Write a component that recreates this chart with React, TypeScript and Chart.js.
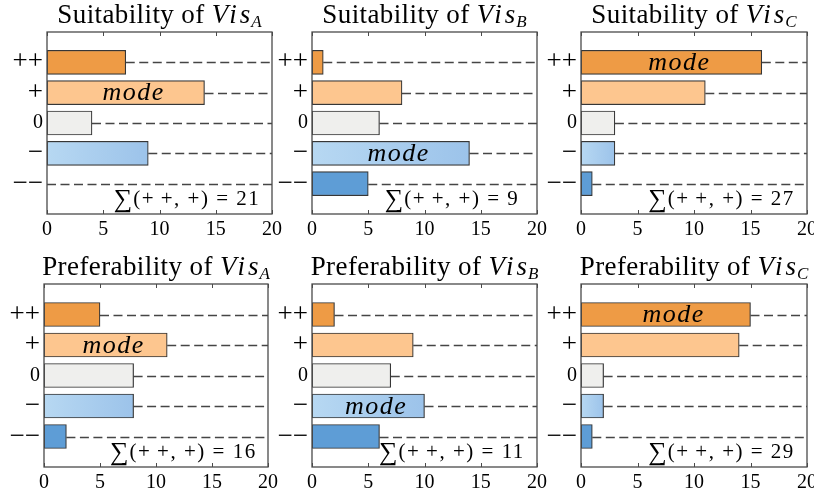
import React, { useEffect, useRef } from 'react';
import { Chart, registerables } from 'chart.js';

Chart.register(...registerables);

// ---------- data ----------
const CATEGORIES = ['++', '+', '0', '−', '−−'];
const SUIT_A = [7, 14, 4, 9, 0];
const SUIT_B = [1, 8, 6, 14, 5];
const SUIT_C = [16, 11, 3, 3, 1];
const PREF_A = [5, 11, 8, 8, 2];
const PREF_B = [2, 9, 7, 10, 6];
const PREF_C = [15, 14, 2, 2, 1];
const X_TICKS = [0, 5, 10, 15, 20];
const ROW_TITLES = ['Suitability', 'Preferability'];
const VIS_NAMES = ['A', 'B', 'C'];
const SUM_SYMBOL = '∑';
const SUM_PREFIX = '(+\u2009+, +) = ';
const MODE_LABEL = 'mode';

// ---------- style ----------
const FONT = "'Liberation Serif', 'Times New Roman', serif";
const BAR_COLORS = ['#EE9B45', '#FDC68F', '#EFEFED', '#A8CDEF', '#5E9DD6'];
const GRAD_LIGHT = '#B7D8F2';
const GRAD_DARK = '#9CC3EA';
const BAR_BORDER = '#363636';
const FRAME = '#4a4a4a';
const DASH = '#454545';

const PAD_L = 44;
const PAD_R = 14;
const PAD_T = 34;
const PAD_B = 30;

type Panel = { values: number[]; title: string; sub: string; box: [number, number, number, number] };

const PANELS: Panel[] = [
  { values: SUIT_A, title: ROW_TITLES[0], sub: VIS_NAMES[0], box: [47, 32, 272, 214] },
  { values: SUIT_B, title: ROW_TITLES[0], sub: VIS_NAMES[1], box: [312, 32, 537, 214] },
  { values: SUIT_C, title: ROW_TITLES[0], sub: VIS_NAMES[2], box: [581, 32, 807, 214] },
  { values: PREF_A, title: ROW_TITLES[1], sub: VIS_NAMES[0], box: [44, 284, 268, 467] },
  { values: PREF_B, title: ROW_TITLES[1], sub: VIS_NAMES[1], box: [312, 284, 537, 467] },
  { values: PREF_C, title: ROW_TITLES[1], sub: VIS_NAMES[2], box: [581, 284, 807, 467] },
];

function setSpacing(ctx: any, v: string) {
  if ('letterSpacing' in ctx) ctx.letterSpacing = v;
}

function makeDeco(panel: Panel) {
  const values = panel.values;
  return {
    id: 'panelDeco',
    beforeDatasetsDraw(chart: any) {
      const { ctx, chartArea } = chart;
      const xs = chart.scales.x;
      const ys = chart.scales.y;
      ctx.save();
      ctx.strokeStyle = DASH;
      ctx.lineWidth = 1.4;
      ctx.setLineDash([9, 4.5]);
      values.forEach((v, i) => {
        const y = Math.round(ys.getPixelForValue(i + 1)) + 0.5;
        const x0 = xs.getPixelForValue(v);
        ctx.beginPath();
        ctx.moveTo(x0, y);
        ctx.lineTo(chartArea.right, y);
        ctx.stroke();
      });
      ctx.restore();
    },
    afterDatasetsDraw(chart: any) {
      const { ctx, chartArea } = chart;
      const xs = chart.scales.x;
      const ys = chart.scales.y;
      ctx.save();
      // frame
      ctx.strokeStyle = FRAME;
      ctx.lineWidth = 1.3;
      ctx.strokeRect(chartArea.left, chartArea.top, chartArea.right - chartArea.left, chartArea.bottom - chartArea.top);
      // inward ticks
      ctx.lineWidth = 1;
      X_TICKS.forEach((v) => {
        const x = Math.round(xs.getPixelForValue(v)) + 0.5;
        ctx.beginPath();
        ctx.moveTo(x, chartArea.top);
        ctx.lineTo(x, chartArea.top + 4);
        ctx.moveTo(x, chartArea.bottom);
        ctx.lineTo(x, chartArea.bottom - 4);
        ctx.stroke();
      });
      // mode label
      let mi = 0;
      values.forEach((v, i) => { if (v > values[mi]) mi = i; });
      const mx = (xs.getPixelForValue(0) + xs.getPixelForValue(values[mi])) / 2 + 8;
      const my = ys.getPixelForValue(mi + 1);
      ctx.fillStyle = '#000';
      ctx.font = `italic 26px ${FONT}`;
      setSpacing(ctx, '1.5px');
      ctx.textAlign = 'center';
      ctx.textBaseline = 'middle';
      ctx.fillText(MODE_LABEL, mx, my + 1);
      // sum label
      const sum = values[0] + values[1];
      const rest = SUM_PREFIX + sum;
      ctx.textAlign = 'left';
      ctx.textBaseline = 'alphabetic';
      ctx.font = `26px ${FONT}`;
      setSpacing(ctx, '0px');
      const wSig = ctx.measureText(SUM_SYMBOL).width;
      ctx.font = `21px ${FONT}`;
      setSpacing(ctx, '1.5px');
      const wRest = ctx.measureText(rest).width;
      const cx = chartArea.left + (chartArea.right - chartArea.left) * 0.622;
      const base = chartArea.bottom - 9;
      let x = cx - (wSig + 1 + wRest) / 2;
      ctx.font = `26px ${FONT}`;
      setSpacing(ctx, '0px');
      ctx.fillText(SUM_SYMBOL, x, base + 2);
      x += wSig + 1;
      ctx.font = `21px ${FONT}`;
      setSpacing(ctx, '1.5px');
      ctx.fillText(rest, x, base);
      ctx.restore();
    },
    afterDraw(chart: any) {
      const { ctx, chartArea } = chart;
      ctx.save();
      const cx = (chartArea.left + chartArea.right) / 2;
      const base = chartArea.top - 9;
      const t1 = panel.title + ' of ';
      ctx.fillStyle = '#000';
      ctx.textBaseline = 'alphabetic';
      ctx.textAlign = 'left';
      ctx.font = `27px ${FONT}`;
      setSpacing(ctx, '0.4px');
      const w1 = ctx.measureText(t1).width;
      ctx.font = `italic 27px ${FONT}`;
      setSpacing(ctx, '3px');
      const w2 = ctx.measureText('Vis').width;
      ctx.font = `italic 17px ${FONT}`;
      setSpacing(ctx, '0px');
      const w3 = ctx.measureText(panel.sub).width;
      let x = cx - (w1 + w2 + w3 - 2) / 2;
      ctx.font = `27px ${FONT}`;
      setSpacing(ctx, '0.4px');
      ctx.fillText(t1, x, base);
      x += w1;
      ctx.font = `italic 27px ${FONT}`;
      setSpacing(ctx, '3px');
      ctx.fillText('Vis', x, base);
      x += w2 - 2;
      ctx.font = `italic 17px ${FONT}`;
      setSpacing(ctx, '0px');
      ctx.fillText(panel.sub, x, base + 4);
      ctx.restore();
    },
  };
}

function PanelChart({ panel }: { panel: Panel }) {
  const ref = useRef<HTMLCanvasElement>(null);
  const [l, t, r, b] = panel.box;
  const W = r - l + PAD_L + PAD_R;
  const H = b - t + PAD_T + PAD_B;

  useEffect(() => {
    if (!ref.current) return;
    const labels = ['', ...CATEGORIES, ''];
    const chart = new Chart(ref.current, {
      type: 'bar',
      data: {
        labels,
        datasets: [
          {
            data: [null, ...panel.values, null] as any,
            backgroundColor: (c: any) => {
              const i = c.dataIndex;
              if (i === 4) {
                const ch = c.chart;
                const xs = ch.scales && ch.scales.x;
                if (!xs || !ch.chartArea) return BAR_COLORS[3];
                const x0 = xs.getPixelForValue(0);
                const x1 = xs.getPixelForValue(c.raw || 0);
                if (x1 - x0 < 1) return BAR_COLORS[3];
                const g = ch.ctx.createLinearGradient(x0, 0, x1, 0);
                g.addColorStop(0, GRAD_LIGHT);
                g.addColorStop(1, GRAD_DARK);
                return g;
              }
              return BAR_COLORS[Math.max(0, Math.min(4, i - 1))];
            },
            borderColor: BAR_BORDER,
            borderWidth: 1.2,
            borderSkipped: false,
            barThickness: 24,
          } as any,
        ],
      },
      options: {
        indexAxis: 'y',
        responsive: false,
        animation: false,
        events: [],
        layout: { padding: { top: PAD_T, right: PAD_R, left: 0, bottom: 0 } },
        plugins: { legend: { display: false }, tooltip: { enabled: false }, title: { display: false } },
        scales: {
          x: {
            type: 'linear',
            min: 0,
            max: 20,
            afterBuildTicks: (s: any) => { s.ticks = X_TICKS.map((v) => ({ value: v })); },
            afterFit: (s: any) => { s.height = PAD_B; },
            grid: { display: false, drawTicks: false },
            border: { display: false },
            ticks: { font: { family: FONT, size: 20 }, color: '#000', padding: 4, maxRotation: 0, autoSkip: false },
          },
          y: {
            type: 'category',
            offset: false,
            afterFit: (s: any) => { s.width = PAD_L; },
            grid: { display: false, drawTicks: false },
            border: { display: false },
            ticks: {
              autoSkip: false,
              color: '#000',
              padding: 4,
              font: (c: any) => {
                const lab = c.tick ? c.tick.label : '';
                return { family: FONT, size: lab === '0' ? 20 : 27 };
              },
            },
          },
        } as any,
      },
      plugins: [makeDeco(panel)],
    } as any);
    return () => chart.destroy();
  }, []);

  return (
    <canvas
      ref={ref}
      width={W}
      height={H}
      style={{ position: 'absolute', left: l - PAD_L, top: t - PAD_T, width: W, height: H }}
    />
  );
}

export default function App() {
  return (
    <div style={{ position: 'absolute', left: 0, top: 0, width: 814, height: 491, background: '#fff', overflow: 'hidden' }}>
      {PANELS.map((p, i) => (
        <PanelChart key={i} panel={p} />
      ))}
    </div>
  );
}
